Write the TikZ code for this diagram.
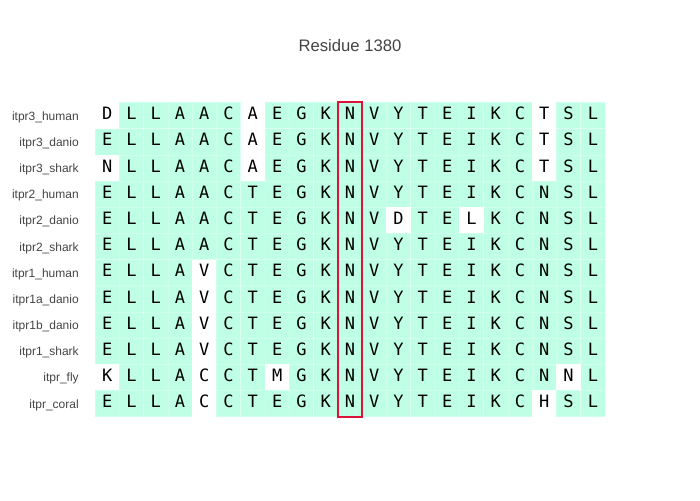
\documentclass[tikz,border=0pt]{standalone}
\usepackage{fontspec}
\setmainfont{Liberation Sans}
\newfontfamily\seqfont{DejaVu Sans Mono}
\definecolor{mint}{RGB}{190,255,230}
\definecolor{labelgray}{RGB}{68,68,68}
\definecolor{boxred}{RGB}{220,20,60}
\tikzset{
  rescell/.style={inner sep=0pt, outer sep=0pt, minimum width=18.21pt, minimum height=19.64pt,
    text height=9.3pt, text depth=3pt, font=\seqfont\fontsize{12.75pt}{14pt}\selectfont, text=black},
  cellline/.style={draw=white, draw opacity=0.25, line width=0.4pt},
  seqlabel/.style={anchor=base east, inner sep=0pt, text=labelgray, font=\fontsize{9pt}{11pt}\selectfont},
  titletext/.style={anchor=base, inner sep=0pt, text=labelgray, font=\fontsize{12.5pt}{14pt}\selectfont},
  hlbox/.style={draw=boxred, line width=1.5pt}
}
% white (unhighlighted) cells: column-row
\def\setwhite#1{\expandafter\def\csname w-#1\endcsname{}}
\setwhite{1-1}\setwhite{7-1}\setwhite{19-1}
\setwhite{7-2}\setwhite{19-2}
\setwhite{1-3}\setwhite{7-3}\setwhite{19-3}
\setwhite{13-5}\setwhite{16-5}
\setwhite{5-7}\setwhite{5-8}\setwhite{5-9}\setwhite{5-10}
\setwhite{1-11}\setwhite{5-11}\setwhite{8-11}\setwhite{20-11}
\setwhite{5-12}\setwhite{19-12}
\begin{document}
\begin{tikzpicture}[x=0.75pt,y=-0.75pt]
\useasboundingbox (0,0) rectangle (700,500);
\def\cw{24.286}
\def\rh{26.18}
\node[titletext] (title) at (350,51.5) {Residue 1380};
\foreach \nm/\seq [count=\r] in {
  itpr3\_human/{D,L,L,A,A,C,A,E,G,K,N,V,Y,T,E,I,K,C,T,S,L},
  itpr3\_danio/{E,L,L,A,A,C,A,E,G,K,N,V,Y,T,E,I,K,C,T,S,L},
  itpr3\_shark/{N,L,L,A,A,C,A,E,G,K,N,V,Y,T,E,I,K,C,T,S,L},
  itpr2\_human/{E,L,L,A,A,C,T,E,G,K,N,V,Y,T,E,I,K,C,N,S,L},
  itpr2\_danio/{E,L,L,A,A,C,T,E,G,K,N,V,D,T,E,L,K,C,N,S,L},
  itpr2\_shark/{E,L,L,A,A,C,T,E,G,K,N,V,Y,T,E,I,K,C,N,S,L},
  itpr1\_human/{E,L,L,A,V,C,T,E,G,K,N,V,Y,T,E,I,K,C,N,S,L},
  itpr1a\_danio/{E,L,L,A,V,C,T,E,G,K,N,V,Y,T,E,I,K,C,N,S,L},
  itpr1b\_danio/{E,L,L,A,V,C,T,E,G,K,N,V,Y,T,E,I,K,C,N,S,L},
  itpr1\_shark/{E,L,L,A,V,C,T,E,G,K,N,V,Y,T,E,I,K,C,N,S,L},
  itpr\_fly/{K,L,L,A,C,C,T,M,G,K,N,V,Y,T,E,I,K,C,N,N,L},
  itpr\_coral/{E,L,L,A,C,C,T,E,G,K,N,V,Y,T,E,I,K,C,H,S,L}}{
  \node[seqlabel] (lab-\r) at (79,{102.5+(\r-0.5)*\rh+4.6}) {\nm};
  \foreach \ch [count=\i] in \seq {
    \ifcsname w-\i-\r\endcsname\def\cellfill{white}\else\def\cellfill{mint}\fi
    \node[rescell, fill=\cellfill, cellline] (c-\r-\i) at ({95+(\i-0.5)*\cw},{102.5+(\r-0.5)*\rh}) {\ch};
  }
}
\draw[hlbox] (c-1-11.north west) rectangle (c-12-11.south east);
\end{tikzpicture}
\end{document}
